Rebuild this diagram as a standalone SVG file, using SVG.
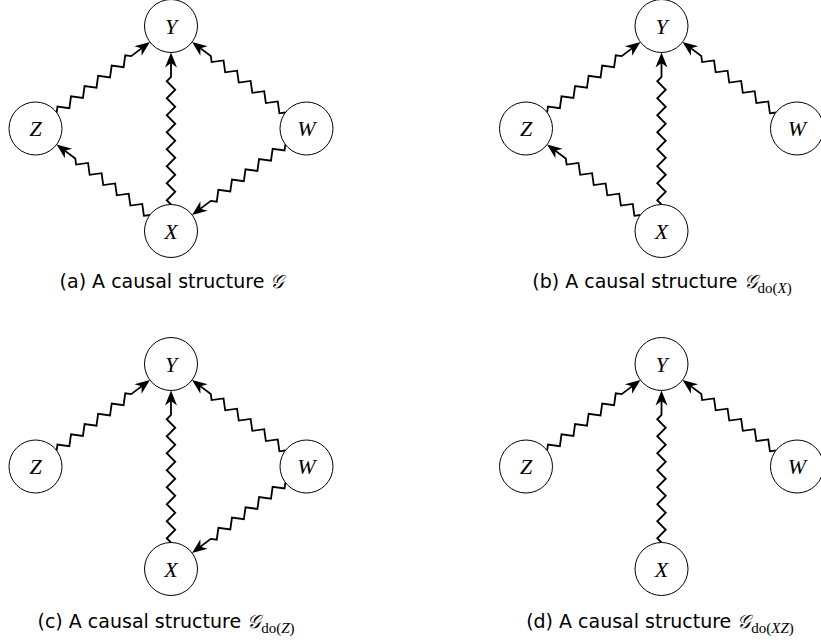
<svg xmlns="http://www.w3.org/2000/svg" xmlns:xlink="http://www.w3.org/1999/xlink" width="821" height="644" viewBox="0 0 821 644">
<style>
.node circle{fill:#fff;stroke:#000;stroke-width:1}
.node text{font-family:"Liberation Serif","DejaVu Serif",serif;font-style:italic;font-size:22px;text-anchor:middle;fill:#000}
.cap{font-family:"DejaVu Sans",sans-serif;font-size:19px;text-anchor:middle;fill:#000}
.cal{font-family:"DejaVu Serif",serif;font-style:italic}
.sub{font-family:"Liberation Serif","DejaVu Serif",serif;font-size:15px}
.it{font-style:italic}
</style>
<defs>
<marker id="ah" markerUnits="userSpaceOnUse" orient="auto" markerWidth="30" markerHeight="30" refX="0" refY="0" overflow="visible">
<path d="M4,0 L-11,-6 L-6.5,0 L-11,6 Z" fill="#000"/>
</marker>
<path id="zd" fill="none" stroke="#000" stroke-width="1.8" marker-end="url(#ah)" d="M0,0 l4.25,-4.25 l8.5,8.5 l8.5,-8.5 l8.5,8.5 l8.5,-8.5 l8.5,8.5 l8.5,-8.5 l8.5,8.5 l8.5,-8.5 l8.5,8.5 l8.5,-8.5 l4.25,4.25 L113,0"/>
<path id="zv" fill="none" stroke="#000" stroke-width="1.8" marker-end="url(#ah)" d="M0,0 l4.25,-4.25 l8.5,8.5 l8.5,-8.5 l8.5,8.5 l8.5,-8.5 l8.5,8.5 l8.5,-8.5 l8.5,8.5 l8.5,-8.5 l8.5,8.5 l8.5,-8.5 l8.5,8.5 l8.5,-8.5 l8.5,8.5 l8.5,-8.5 l4.25,4.25 L148,0"/>
</defs>
<rect width="821" height="644" fill="#fff"/>

<!-- panel (a) -->
<g id="panel-a">
<g id="a-edges">
<use xlink:href="#zd" href="#zd" transform="translate(56.63,112.51) rotate(-37.1)"/>
<use xlink:href="#zd" href="#zd" transform="translate(285.37,112.51) rotate(-142.9)"/>
<use xlink:href="#zd" href="#zd" transform="translate(149.87,215.01) rotate(-142.9)"/>
<use xlink:href="#zd" href="#zd" transform="translate(285.37,144.49) rotate(142.9)"/>
<use xlink:href="#zv" href="#zv" transform="translate(171,204.5) rotate(-90)"/>
</g>
<g id="a-Y" class="node"><circle cx="171" cy="26" r="26.5"/><text x="171" y="33.5">Y</text></g>
<g id="a-Z" class="node"><circle cx="35.5" cy="128.5" r="26.5"/><text x="35.5" y="136">Z</text></g>
<g id="a-W" class="node"><circle cx="306.5" cy="128.5" r="26.5"/><text x="306.5" y="136">W</text></g>
<g id="a-X" class="node"><circle cx="171" cy="231" r="26.5"/><text x="171" y="238.5">X</text></g>
<text class="cap" x="172" y="288">(a) A causal structure <tspan class="cal">𝒢</tspan></text>
</g>

<!-- panel (b) -->
<g id="panel-b" transform="translate(490.5,0)">
<g id="b-edges">
<use xlink:href="#zd" href="#zd" transform="translate(56.63,112.51) rotate(-37.1)"/>
<use xlink:href="#zd" href="#zd" transform="translate(285.37,112.51) rotate(-142.9)"/>
<use xlink:href="#zd" href="#zd" transform="translate(149.87,215.01) rotate(-142.9)"/>
<use xlink:href="#zv" href="#zv" transform="translate(171,204.5) rotate(-90)"/>
</g>
<g id="b-Y" class="node"><circle cx="171" cy="26" r="26.5"/><text x="171" y="33.5">Y</text></g>
<g id="b-Z" class="node"><circle cx="35.5" cy="128.5" r="26.5"/><text x="35.5" y="136">Z</text></g>
<g id="b-W" class="node"><circle cx="306.5" cy="128.5" r="26.5"/><text x="306.5" y="136">W</text></g>
<g id="b-X" class="node"><circle cx="171" cy="231" r="26.5"/><text x="171" y="238.5">X</text></g>
<text class="cap" x="171.5" y="288">(b) A causal structure <tspan class="cal">𝒢</tspan><tspan class="sub" dy="4.5">do(</tspan><tspan class="sub it">X</tspan><tspan class="sub">)</tspan></text>
</g>

<!-- panel (c) -->
<g id="panel-c" transform="translate(0,338)">
<g id="c-edges">
<use xlink:href="#zd" href="#zd" transform="translate(56.63,112.51) rotate(-37.1)"/>
<use xlink:href="#zd" href="#zd" transform="translate(285.37,112.51) rotate(-142.9)"/>
<use xlink:href="#zd" href="#zd" transform="translate(285.37,144.49) rotate(142.9)"/>
<use xlink:href="#zv" href="#zv" transform="translate(171,204.5) rotate(-90)"/>
</g>
<g id="c-Y" class="node"><circle cx="171" cy="26" r="26.5"/><text x="171" y="33.5">Y</text></g>
<g id="c-Z" class="node"><circle cx="35.5" cy="128.5" r="26.5"/><text x="35.5" y="136">Z</text></g>
<g id="c-W" class="node"><circle cx="306.5" cy="128.5" r="26.5"/><text x="306.5" y="136">W</text></g>
<g id="c-X" class="node"><circle cx="171" cy="231" r="26.5"/><text x="171" y="238.5">X</text></g>
<text class="cap" x="166" y="290">(c) A causal structure <tspan class="cal">𝒢</tspan><tspan class="sub" dy="4.5">do(</tspan><tspan class="sub it">Z</tspan><tspan class="sub">)</tspan></text>
</g>

<!-- panel (d) -->
<g id="panel-d" transform="translate(490.5,338)">
<g id="d-edges">
<use xlink:href="#zd" href="#zd" transform="translate(56.63,112.51) rotate(-37.1)"/>
<use xlink:href="#zd" href="#zd" transform="translate(285.37,112.51) rotate(-142.9)"/>
<use xlink:href="#zv" href="#zv" transform="translate(171,204.5) rotate(-90)"/>
</g>
<g id="d-Y" class="node"><circle cx="171" cy="26" r="26.5"/><text x="171" y="33.5">Y</text></g>
<g id="d-Z" class="node"><circle cx="35.5" cy="128.5" r="26.5"/><text x="35.5" y="136">Z</text></g>
<g id="d-W" class="node"><circle cx="306.5" cy="128.5" r="26.5"/><text x="306.5" y="136">W</text></g>
<g id="d-X" class="node"><circle cx="171" cy="231" r="26.5"/><text x="171" y="238.5">X</text></g>
<text class="cap" x="169.5" y="290">(d) A causal structure <tspan class="cal">𝒢</tspan><tspan class="sub" dy="4.5">do(</tspan><tspan class="sub it">XZ</tspan><tspan class="sub">)</tspan></text>
</g>
</svg>
